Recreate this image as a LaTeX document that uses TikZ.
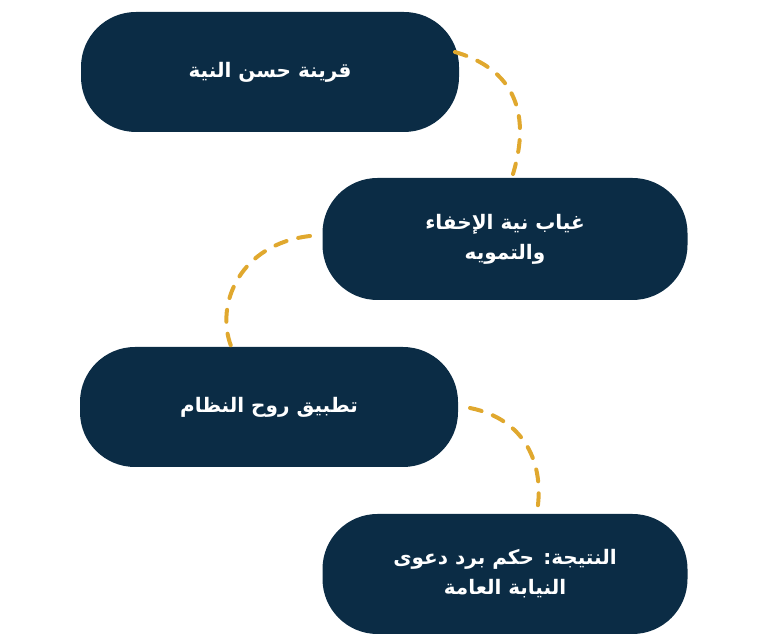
\documentclass[tikz,border=0pt]{standalone}
\usepackage{fontspec}
\TeXXeTstate=1
\newfontfamily\arabicfont[Script=Arabic]{DejaVu Sans}
\definecolor{navy}{HTML}{0B2C45}
\definecolor{gold}{HTML}{E0A82E}
\tikzset{
 blob/.style={fill=navy, rounded corners=55pt, minimum width=378pt, minimum height=120pt, text=white, font=\arabicfont\bfseries\fontsize{20pt}{30pt}\selectfont, align=center, inner sep=0pt},
 link/.style={gold, line width=4pt, dash pattern=on 12pt off 12pt, line cap=round}
}
\begin{document}
\begin{tikzpicture}[x=1pt,y=1pt]
\useasboundingbox (0,0) rectangle (768,644);
\node[blob] (a) at (270,572) {\beginR قرينة حسن النية\endR};
\node[blob, minimum width=365pt, minimum height=122pt] (b) at (505,405) {\beginR غياب نية الإخفاء\endR\\\beginR والتمويه\endR};
\node[blob] (c) at (269,237) {\beginR تطبيق روح النظام\endR};
\node[blob, minimum width=365pt] (d) at (505,70) {\beginR النتيجة: حكم برد دعوى\endR\\\beginR النيابة العامة\endR};
\coordinate (a1) at (455,592);
\coordinate (b1) at (513,470);
\coordinate (b2) at (310,408);
\coordinate (c1) at (231,298);
\coordinate (c2) at (470,236);
\coordinate (d1) at (537,132);
\draw[link] (a1) .. controls (530,570) and (525,510) .. (b1);
\draw[link] (b2) .. controls (240,400) and (215,340) .. (c1);
\draw[link] (c2) .. controls (525,225) and (545,180) .. (d1);
\end{tikzpicture}
\end{document}
